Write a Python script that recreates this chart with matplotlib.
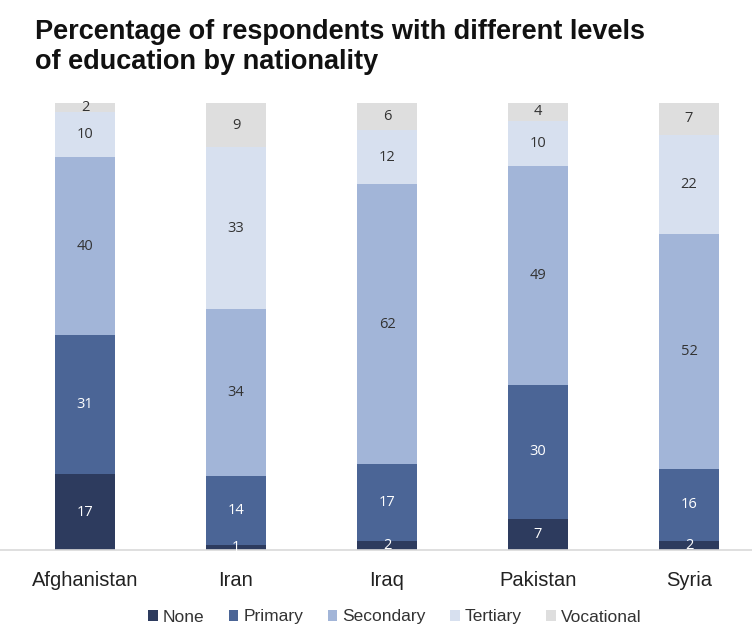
import matplotlib.pyplot as plt
import numpy as np

countries = ["Afghanistan", "Iran", "Iraq", "Pakistan", "Syria"]
levels = ["None", "Primary", "Secondary", "Tertiary", "Vocational"]

none_vals = [17, 1, 2, 7, 2]
primary_vals = [31, 14, 17, 30, 16]
secondary_vals = [40, 34, 62, 49, 52]
tertiary_vals = [10, 33, 12, 10, 22]
vocational_vals = [2, 9, 6, 4, 7]

colors = ["#2d3b5e", "#4b6596", "#a2b5d8", "#d7e0ef", "#dedede"]
text_colors = ["white", "white", "#333333", "#333333", "#333333"]

series = np.array([none_vals, primary_vals, secondary_vals, tertiary_vals, vocational_vals], dtype=float)
# 100% stacked: each bar scaled to its own total
shares = series / series.sum(axis=0) * 100

fig = plt.figure(figsize=(7.52, 6.28), dpi=100)
ax = fig.add_axes([0, 78 / 628, 1, 447 / 628])

x = np.arange(len(countries))
bottom = np.zeros(len(countries))
for i, lvl in enumerate(levels):
    ax.bar(x, shares[i], 0.4, bottom=bottom, color=colors[i], label=lvl)
    for j in range(len(countries)):
        ax.text(x[j], bottom[j] + shares[i][j] / 2, str(int(series[i][j])),
                ha="center", va="center", fontsize=10.5, color=text_colors[i],
                family="Open Sans")
    bottom += shares[i]

ax.set_xlim(-85 / 151, 667 / 151)
ax.set_ylim(0, 100)
for s in ["top", "left", "right"]:
    ax.spines[s].set_visible(False)
ax.spines["bottom"].set_color("#d9d9d9")
ax.spines["bottom"].set_linewidth(1.2)
ax.set_yticks([])
ax.set_xticks(x)
ax.set_xticklabels(countries, fontsize=14.5, family="Liberation Sans", color="#222222")
ax.tick_params(axis="x", length=0, pad=15)

fig.text(35 / 752, 1 - 19 / 628, "Percentage of respondents with different levels\nof education by nationality",
         fontsize=19.5, fontweight="bold", family="Liberation Sans", color="#111111",
         va="top", linespacing=1.2)

ax.legend(loc="center", bbox_to_anchor=(395 / 752, -67 / 447), ncol=5, frameon=False,
          handlelength=0.55, handleheight=0.55, handletextpad=0.3, columnspacing=1.4,
          prop={"family": "Liberation Sans", "size": 12.5}, labelcolor="#333333")

fig.savefig("out.png", dpi=100)
